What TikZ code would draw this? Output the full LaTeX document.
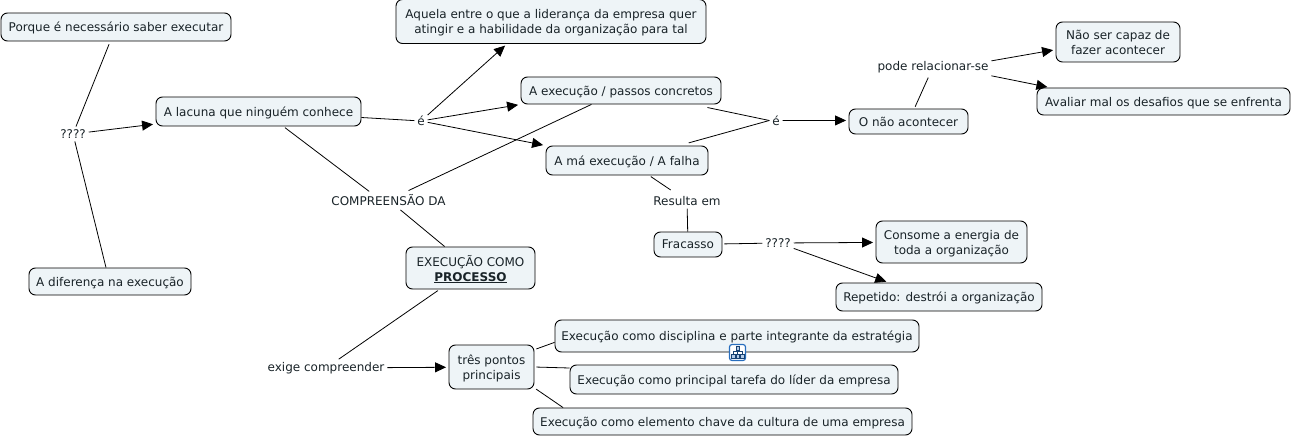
\documentclass[tikz,border=0pt]{standalone}
\usepackage{fontspec}
\setmainfont{DejaVu Sans}
\usepackage{xcolor}
\usetikzlibrary{arrows.meta}
\definecolor{boxfill}{RGB}{238,244,247}
\definecolor{inktext}{RGB}{25,35,40}
\definecolor{iconblue}{RGB}{40,110,190}
\tikzset{
  concept/.style={draw=black, fill=boxfill, rounded corners=6.5pt, line width=0.9pt, align=center, inner sep=0pt, text depth=0pt, text=inktext, font=\fontsize{12pt}{15pt}\selectfont},
  linking/.style={inner sep=2pt, outer sep=1pt, text=inktext, font=\fontsize{12pt}{15pt}\selectfont},
  link/.style={line width=0.8pt},
  arrowlink/.style={line width=0.8pt, -{Triangle[length=11pt,width=10pt]}, shorten >=2.5pt},
  iconbox/.style={draw=iconblue, fill=white, rounded corners=2.5pt, line width=1.2pt, minimum size=16pt, inner sep=0pt},
  iconpart/.style={draw=iconblue!60!black, fill=iconblue!35!white, line width=0.5pt, minimum size=3.5pt, inner sep=0pt}
}
\begin{document}
\begin{tikzpicture}[x=1pt,y=-1pt]
    \useasboundingbox (0,0) rectangle (1292,438);
    % Concepts
    \node[concept, minimum width=230pt, minimum height=28pt] (porque) at (116,27) {Porque é necessário saber executar};
    \node[concept, minimum width=205pt, minimum height=29pt] (lacuna) at (258.5,111.5) {A lacuna que ninguém conhece};
    \node[concept, minimum width=162pt, minimum height=27pt] (diferenca) at (110,281.5) {A diferença na execução};
    \node[concept, minimum width=310pt, minimum height=44pt] (aquela) at (551,21.5) {Aquela entre o que a liderança da empresa quer\\atingir e a habilidade da organização para tal};
    \node[concept, minimum width=200pt, minimum height=27pt] (passos) at (621,90.5) {A execução / passos concretos};
    \node[concept, minimum width=162pt, minimum height=29pt] (falha) at (627,160.5) {A má execução / A falha};
    \node[concept, minimum width=119pt, minimum height=25pt] (naoacontecer) at (908.5,121.5) {O não acontecer};
    \node[concept, minimum width=124pt, minimum height=40pt] (naoser) at (1118,42) {Não ser capaz de\\fazer acontecer};
    \node[concept, minimum width=253pt, minimum height=27pt] (avaliar) at (1163.5,101.5) {Avaliar mal os desafios que se enfrenta};
    \node[concept, minimum width=68pt, minimum height=25pt] (fracasso) at (688,244.5) {Fracasso};
    \node[concept, minimum width=151pt, minimum height=42pt] (consome) at (951.5,242) {Consome a energia de\\toda a organização};
    \node[concept, minimum width=206pt, minimum height=28pt] (repetido) at (939,297) {Repetido: destrói a organização};
    \node[concept, minimum width=129pt, minimum height=42pt] (processo) at (470.5,268) {EXECUÇÃO COMO\\\underline{\textbf{PROCESSO}}};
    \node[concept, minimum width=85pt, minimum height=44pt] (trespontos) at (491.5,367) {três pontos\\principais};
    \node[concept, minimum width=364pt, minimum height=32pt] (disciplina) at (737,336) {Execução como disciplina e parte integrante da estratégia};
    \node[concept, minimum width=328pt, minimum height=29pt] (tarefa) at (734,379.5) {Execução como principal tarefa do líder da empresa};
    \node[concept, minimum width=379pt, minimum height=27pt] (cultura) at (722.5,421.5) {Execução como elemento chave da cultura de uma empresa};
    % Linking phrases
    \node[linking] (qleft) at (73,134) {????};
    \node[linking] (eleft) at (421,121) {é};
    \node[linking] (eright) at (776,120.5) {é};
    \node[linking] (compreensao) at (388.5,200) {COMPREENSÃO DA};
    \node[linking] (resulta) at (687,201) {Resulta em};
    \node[linking] (qright) at (778,243) {????};
    \node[linking] (pode) at (933,67) {pode relacionar-se};
    \node[linking] (exige) at (326,368) {exige compreender};
    % Connectors
    \draw[link, shorten <=3pt] (porque) -- (qleft);
    \draw[link] (diferenca.106) -- (qleft);
    \draw[arrowlink] (qleft) -- (lacuna);
    \draw[link] (lacuna) -- (eleft);
    \draw[arrowlink] (eleft) -- (aquela.207);
    \draw[arrowlink] (eleft) -- (passos.south west);
    \draw[arrowlink] (eleft) -- (falha.north west);
    \draw[link, shorten <=15pt] (passos.-11) -- (eright.west);
    \draw[link, shorten <=10pt] (falha.16) -- (eright.west);
    \draw[arrowlink] (eright.east) -- (naoacontecer.179);
    \draw[link, shorten <=2pt, shorten >=2pt] (naoacontecer) -- (pode);
    \draw[arrowlink] (pode.6) -- (naoser.187);
    \draw[arrowlink] (pode.south east) -- (avaliar.173);
    \draw[link, shorten <=2pt] (lacuna.-31) -- (compreensao.156);
    \draw[link, shorten >=2pt] (passos) -- (compreensao);
    \draw[link, shorten <=2pt] (compreensao) -- (processo);
    \draw[link, shorten <=2pt] (processo) -- (exige);
    \draw[arrowlink] (exige) -- (trespontos);
    \draw[link, shorten <=2pt] (trespontos.22) -- (disciplina.182);
    \draw[link, shorten <=2pt] (trespontos.east) -- (tarefa.176);
    \draw[link, shorten <=2pt] (trespontos.-26) -- (cultura.175);
    \draw[link, shorten <=2pt, shorten >=6pt] (falha) -- (resulta);
    \draw[link] (resulta) -- (fracasso);
    \draw[link, shorten <=2pt] (fracasso) -- (qright);
    \draw[arrowlink] (qright) -- (consome);
    \draw[arrowlink] (qright.-19) -- (repetido.164);
    % Icon on the first point
    \node[iconbox] (icon) at (737.5,352.5) {};
    \draw[iconblue!60!black, line width=0.6pt] (733,355) -- (733,351) -- (742,351) -- (742,355) (737.5,348) -- (737.5,355);
    \foreach \px/\py in {737.5/348, 733/356, 737.5/356, 742/356} {
      \node[iconpart] at (\px,\py) {};
    }
\end{tikzpicture}
\end{document}
